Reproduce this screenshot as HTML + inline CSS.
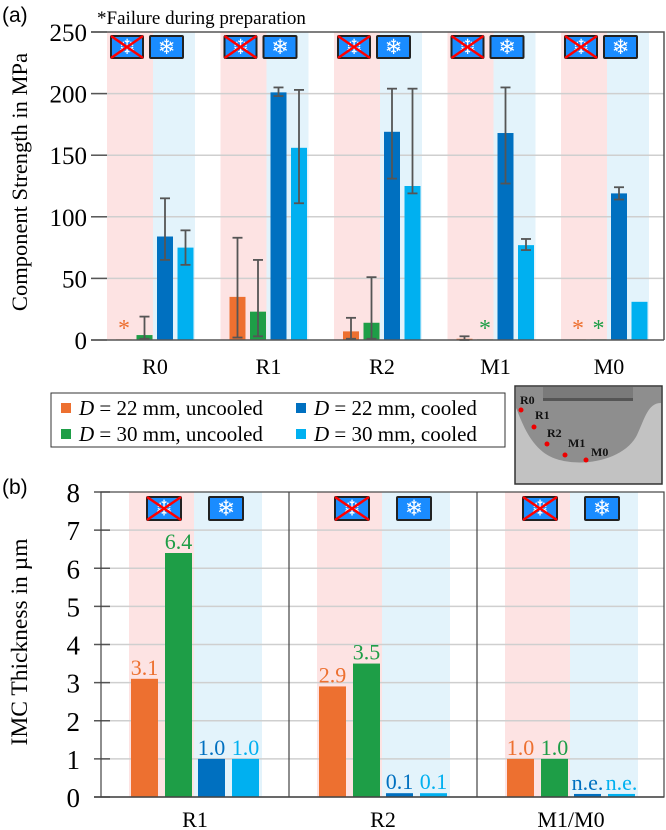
<!DOCTYPE html>
<html><head><meta charset="utf-8">
<style>
html,body{margin:0;padding:0;background:#fff;}
svg{display:block;font-family:"Liberation Serif",serif;}
</style></head>
<body>
<svg id="chart" width="666" height="830" viewBox="0 0 666 830" xmlns="http://www.w3.org/2000/svg">
<text x="2" y="22" font-family="Liberation Sans, sans-serif" font-size="21">(a)</text>
<text x="97" y="24" font-size="19">*Failure during preparation</text>
<text x="2" y="494" font-family="Liberation Sans, sans-serif" font-size="21">(b)</text>
<text transform="translate(27,182) rotate(-90)" text-anchor="middle" font-size="22.5">Component Strength in MPa</text>
<text transform="translate(27,642) rotate(-90)" text-anchor="middle" font-size="23.5">IMC Thickness in µm</text>
<g id="top"></g>
<g id="bot"></g>
<g id="legend">
<rect x="51" y="393" width="454" height="54" fill="#fff" stroke="#333" stroke-width="1"/>
<rect x="61" y="403" width="10" height="10" fill="#ed7030"/>
<text x="79" y="415" font-size="21"><tspan font-style="italic">D</tspan> = 22 mm, uncooled</text>
<rect x="296" y="403" width="10" height="10" fill="#0070c0"/>
<text x="314" y="415" font-size="21"><tspan font-style="italic">D</tspan> = 22 mm, cooled</text>
<rect x="61" y="429" width="10" height="10" fill="#1e9e47"/>
<text x="79" y="441" font-size="21"><tspan font-style="italic">D</tspan> = 30 mm, uncooled</text>
<rect x="296" y="429" width="10" height="10" fill="#00b0f0"/>
<text x="314" y="441" font-size="21"><tspan font-style="italic">D</tspan> = 30 mm, cooled</text>
</g>
<g id="inset">
<rect x="515" y="386" width="147" height="98" fill="#c2c2c2" stroke="#333" stroke-width="1.5"/>
<path d="M516,387 H661 V403 C648,403 645,418 637,435 C622,465 565,470 543,452 C528,440 522,422 516,408 Z" fill="#8e8e8e"/>
<rect x="543" y="387" width="90" height="13" fill="#7a7a7a"/>
<rect x="543" y="398" width="90" height="3" fill="#555"/>
<g fill="#e00">
<circle cx="521" cy="410" r="2.5"/><circle cx="534" cy="427" r="2.5"/><circle cx="547" cy="444" r="2.5"/><circle cx="565" cy="455" r="2.5"/><circle cx="586" cy="460" r="2.5"/>
</g>
<g font-size="12" font-weight="bold" fill="#111">
<text x="520" y="404">R0</text><text x="535" y="419">R1</text><text x="547" y="437">R2</text><text x="568" y="447">M1</text><text x="591" y="456">M0</text>
</g>
</g>
</svg>
<script>
// ---- data: top chart ----
const topCategories = ["R0","R1","R2","M1","M0"];
const topOrange = [0.5, 35, 7, 1, 0.5];
const topGreen = [4, 23, 14, 0.5, 0.5];
const topDark = [84, 201, 169, 168, 119];
const topLight = [75, 156, 125, 77, 31];
const topOrangeErr = [null, [2,83], [1,18], [0,3], null];
const topGreenErr = [[1,19], [3,65], [1,51], null, null];
const topDarkErr = [[65,115], [198,205], [131,204], [127,205], [114,124]];
const topLightErr = [[61,89], [111,203], [119,204], [73,82], null];
const topOrangeStar = [true, false, false, false, true];
const topGreenStar = [false, false, false, true, true];
const topTicks = [0,50,100,150,200,250];
// ---- data: bottom chart ----
const botCategories = ["R1","R2","M1/M0"];
const botOrange = [3.1, 2.9, 1.0];
const botGreen = [6.4, 3.5, 1.0];
const botDark = [1.0, 0.1, 0.08];
const botLight = [1.0, 0.1, 0.08];
const botDarkLabels = ["1.0","0.1","n.e."];
const botLightLabels = ["1.0","0.1","n.e."];
const botTicks = [0,1,2,3,4,5,6,7,8];

const NS="http://www.w3.org/2000/svg";
const C={o:"#ed7030",g:"#1e9e47",d:"#0070c0",l:"#00b0f0"};
function mk(tag,attrs,parent,text){const e=document.createElementNS(NS,tag);for(const k in attrs)e.setAttribute(k,attrs[k]);if(text!==undefined)e.textContent=text;parent.appendChild(e);return e;}

function icon(parent,x,y,w,h,crossed){
  const g=mk("g",{},parent);
  
  
  mk("rect",{x:x,y:y,width:w,height:h,fill:"#1a8cff",stroke:"#222","stroke-width":2,rx:1},g);
  mk("text",{x:x+w/2,y:y+h/2+7,"text-anchor":"middle","font-size":h*0.95,fill:"#fff","font-family":"DejaVu Sans, sans-serif"},g,"❄");
  if(crossed){mk("line",{x1:x,y1:y,x2:x+w,y2:y+h,stroke:"#f00","stroke-width":2.5},g);mk("line",{x1:x,y1:y+h,x2:x+w,y2:y,stroke:"#f00","stroke-width":2.5},g);}
}

// ---- top chart ----
(function(){
  const T=document.getElementById("top");
  const y0=340,y1=32,vmax=250;
  const ys=v=>y0-(v/vmax)*(y0-y1);
  const gx=i=>116+113.5*i;
  const off=[0,20.5,41,61.5], bw=16;
  topCategories.forEach((c,i)=>{
    const s=gx(i);
    const p=mk("rect",{x:s-9,y:y1,width:46,height:y0-y1,fill:"#fde3e3"},T);
    
    
    const b=mk("rect",{x:s+37,y:y1,width:42,height:y0-y1,fill:"#e3f3fb"},T);
    
    
  });
  topTicks.forEach(t=>{
    const y=ys(t);
    if(t>0&&t<vmax){const l=mk("line",{x1:91,x2:664,y1:y,y2:y,stroke:"#cfcfcf","stroke-width":1.5},T);
      
      }
    mk("line",{x1:91,x2:107,y1:y,y2:y,stroke:"#555","stroke-width":1.5},T);
    const tx=mk("text",{x:87,y:y+9,"text-anchor":"end","font-size":25},T,String(t));
    
    
  });
  mk("polyline",{points:"91,32 664,32 664,340",fill:"none",stroke:"#555","stroke-width":1.5},T);
  topCategories.forEach((c,i)=>{
    const s=gx(i);
    icon(T,s-5,36,32,22,true);
    icon(T,s+34,36,33,22,false);
    const series=[[topOrange,topOrangeErr,C.o,'orange'],[topGreen,topGreenErr,C.g,'green'],[topDark,topDarkErr,C.d,'dark-blue'],[topLight,topLightErr,C.l,'light-blue']];
    series.forEach((sr,k)=>{
      const v=sr[0][i], x=s+off[k];
      const r=mk("rect",{x:x,y:ys(v),width:bw,height:y0-ys(v),fill:sr[2]},T);
      
      
      const e=sr[1][i];
      if(e){const cx=x+bw/2;
        const eg=mk("g",{stroke:"#555","stroke-width":1.8},T);
        
        
        mk("line",{x1:cx,x2:cx,y1:ys(e[0]),y2:ys(e[1])},eg);
        mk("line",{x1:cx-5,x2:cx+5,y1:ys(e[0]),y2:ys(e[0])},eg);
        mk("line",{x1:cx-5,x2:cx+5,y1:ys(e[1]),y2:ys(e[1])},eg);}
    });
    if(topOrangeStar[i]){const a=mk("text",{x:s+8,y:336,"text-anchor":"middle","font-size":24,fill:C.o},T,"*");
      
      }
    if(topGreenStar[i]){const a=mk("text",{x:s+28.5,y:336,"text-anchor":"middle","font-size":24,fill:C.g},T,"*");
      
      }
    const lb=mk("text",{x:s+39,y:374,"text-anchor":"middle","font-size":22},T,c);
    
    
  });
  mk("line",{x1:91,x2:664,y1:y0,y2:y0,stroke:"#555","stroke-width":1.5},T);
})();

// ---- bottom chart ----
(function(){
  const B=document.getElementById("bot");
  const y0=797,y1=492,vmax=8;
  const ys=v=>y0-(v/vmax)*(y0-y1);
  const px=i=>101+188*i;
  const off=[30,64,97,131], bw=27;
  botCategories.forEach((c,i)=>{
    const s=px(i);
    const p=mk("rect",{x:s+28,y:y1,width:65,height:y0-y1,fill:"#fde3e3"},B);
    
    
    const b=mk("rect",{x:s+93,y:y1,width:68,height:y0-y1,fill:"#e3f3fb"},B);
    
    
  });
  botTicks.forEach(t=>{
    const y=ys(t);
    if(t>0&&t<vmax){const l=mk("line",{x1:101,x2:664,y1:y,y2:y,stroke:"#cfcfcf","stroke-width":1.5},B);
      
      }
    mk("line",{x1:94,x2:110,y1:y,y2:y,stroke:"#555","stroke-width":1.5},B);
    const tx=mk("text",{x:80,y:y+10,"text-anchor":"end","font-size":27},B,String(t));
    
    
  });
  mk("rect",{x:101,y:y1,width:563,height:y0-y1,fill:"none",stroke:"#444","stroke-width":1.2},B);
  [1,2].forEach(i=>{mk("line",{x1:px(i),x2:px(i),y1:y1,y2:y0,stroke:"#444","stroke-width":1.2},B);});
  botCategories.forEach((c,i)=>{
    const s=px(i);
    icon(B,s+46,497,34,23,true);
    icon(B,s+108,497,34,23,false);
    const series=[[botOrange,C.o,'orange',null],[botGreen,C.g,'green',null],[botDark,C.d,'dark-blue',botDarkLabels],[botLight,C.l,'light-blue',botLightLabels]];
    series.forEach((sr,k)=>{
      const v=sr[0][i], x=s+off[k];
      const r=mk("rect",{x:x,y:ys(v),width:bw,height:y0-ys(v),fill:sr[1]},B);
      
      
      const lab=sr[3]?sr[3][i]:v.toFixed(1);
      const t=mk("text",{x:x+bw/2,y:ys(v)-4,"text-anchor":"middle","font-size":22,fill:sr[1]},B,lab);
      
      
    });
    const lb=mk("text",{x:s+94,y:827,"text-anchor":"middle","font-size":22},B,c);
    
    
  });
  mk("line",{x1:94,x2:664,y1:y0,y2:y0,stroke:"#444","stroke-width":1.5},B);
})();
</script>
</body></html>
